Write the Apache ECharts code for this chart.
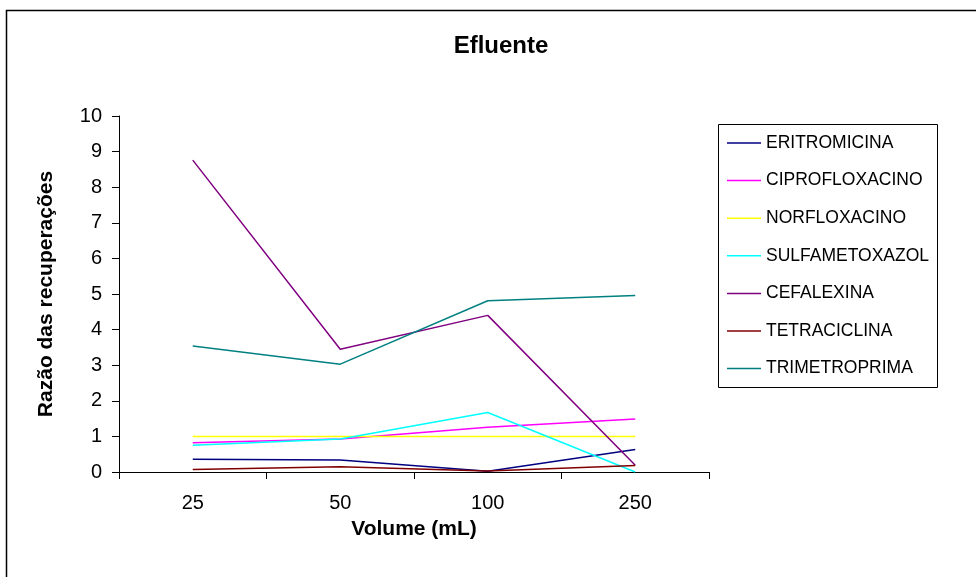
<!DOCTYPE html>
<html><head><meta charset="utf-8">
<script src="https://cdn.jsdelivr.net/npm/echarts@6/dist/echarts.min.js"></script>
<style>html,body{margin:0;padding:0;background:#fff}#c{width:976px;height:577px}</style>
</head><body><div id="c"></div>
<script>
const categories = ['25', '50', '100', '250'];
const seriesNames = ['ERITROMICINA','CIPROFLOXACINO','NORFLOXACINO','SULFAMETOXAZOL','CEFALEXINA','TETRACICLINA','TRIMETROPRIMA'];
const eritromicina = [0.36, 0.34, 0.02, 0.63];
const ciprofloxacino = [0.82, 0.93, 1.26, 1.49];
const norfloxacino = [1, 1, 1, 1];
const sulfametoxazol = [0.75, 0.93, 1.67, 0];
const cefalexina = [8.76, 3.45, 4.40, 0.19];
const tetraciclina = [0.07, 0.15, 0.03, 0.18];
const trimetroprima = [3.54, 3.03, 4.81, 4.96];
const colors = ['#000080','#FF00FF','#FFFF00','#00FFFF','#800080','#800000','#008080'];
const yTicks = [0,1,2,3,4,5,6,7,8,9,10];

const values = [eritromicina, ciprofloxacino, norfloxacino, sulfametoxazol, cefalexina, tetraciclina, trimetroprima];
const font = 'Liberation Sans, Arial, sans-serif';
const chart = echarts.init(document.getElementById('c'));
chart.setOption({
  animation: false,
  backgroundColor: '#fff',
  title: { text: 'Efluente', left: 496, top: 29, textAlign: 'center',
    textStyle: { fontFamily: font, fontSize: 24, fontWeight: 'bold', color: '#000' } },
  graphic: [
    { type: 'rect', shape: { x: 6.5, y: 10.5, width: 1000, height: 700 }, style: { fill: 'none', stroke: '#000', lineWidth: 1.5 }, silent: true },
    { type: 'rect', shape: { x: 718.5, y: 124.5, width: 219, height: 263 }, style: { fill: 'none', stroke: '#000', lineWidth: 1 }, silent: true }
  ],
  legend: {
    orient: 'vertical', left: 727, top: 134, padding: 0,
    icon: 'rect', itemWidth: 34, itemHeight: 1.5, itemGap: 19.6,
    textStyle: { fontFamily: font, fontSize: 17.5, color: '#000', lineHeight: 18, padding: [0,0,0,0] },
    data: seriesNames
  },
  grid: { left: 119, right: 267, top: 116, bottom: 105, containLabel: false },
  xAxis: {
    type: 'category', data: categories, boundaryGap: true,
    name: 'Volume (mL)', nameLocation: 'middle', nameGap: 47,
    nameTextStyle: { fontFamily: font, fontSize: 21, fontWeight: 'bold', color: '#000' },
    axisLine: { lineStyle: { color: '#000', width: 1 } },
    axisTick: { show: true, length: 7, lineStyle: { color: '#000' } },
    axisLabel: { fontFamily: font, fontSize: 20, color: '#000', margin: 21 },
    splitLine: { show: false }
  },
  yAxis: {
    type: 'value', min: 0, max: 10, interval: 1,
    name: 'Razão das recuperações', nameLocation: 'middle', nameGap: 62, nameRotate: 90,
    nameTextStyle: { fontFamily: font, fontSize: 21, fontWeight: 'bold', color: '#000' },
    axisLine: { show: true, lineStyle: { color: '#000', width: 1 } },
    axisTick: { show: true, length: 7, lineStyle: { color: '#000' } },
    axisLabel: { fontFamily: font, fontSize: 20, color: '#000', margin: 17,
      formatter: v => yTicks.includes(v) ? String(v) : '' },
    splitLine: { show: false }
  },
  series: seriesNames.map((n, i) => ({
    name: n, type: 'line', data: values[i], symbol: 'none', showSymbol: false,
    lineStyle: { color: colors[i], width: 1.5 }, itemStyle: { color: colors[i] }
  }))
});
</script></body></html>
